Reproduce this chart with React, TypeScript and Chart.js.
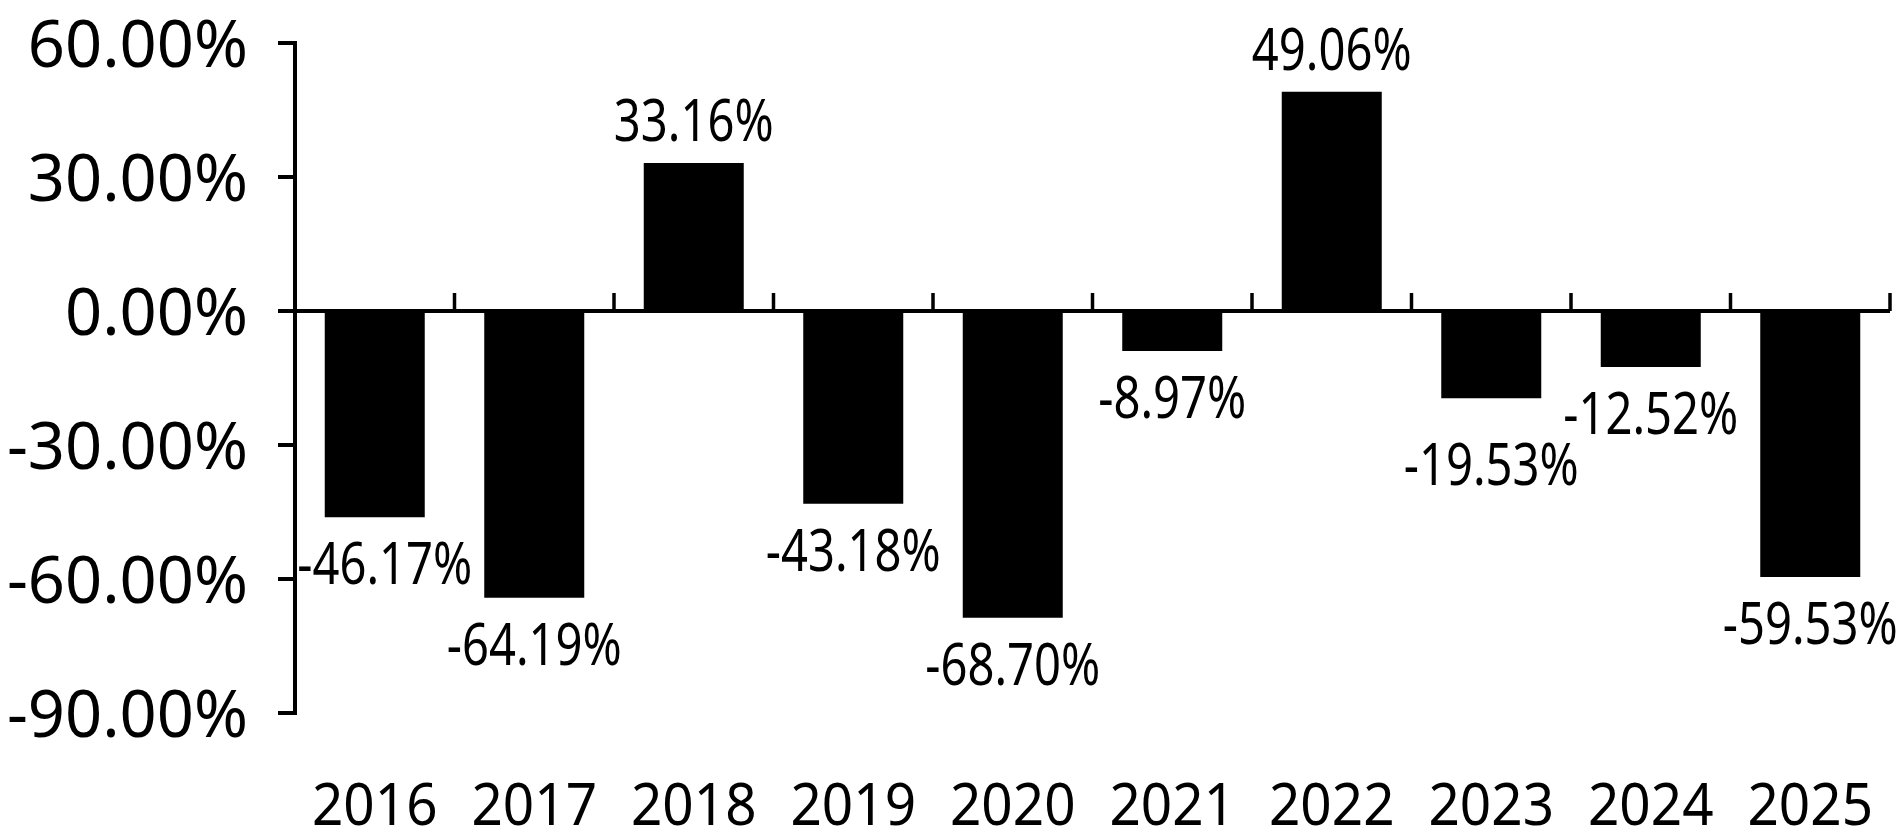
import React, { useEffect, useRef } from "react";
import { Chart, registerables } from "chart.js";

Chart.register(...registerables);

// ---- data ----
const years = ["2016", "2017", "2018", "2019", "2020", "2021", "2022", "2023", "2024", "2025"];
const returns = [-46.17, -64.19, 33.16, -43.18, -68.7, -8.97, 49.06, -19.53, -12.52, -59.53];
const yTicks = [60, 30, 0, -30, -60, -90];

// ---- styling ----
const FAMILY = "'Noto Sans', 'Open Sans', sans-serif";
const LABEL_SIZE = 59;
const DATA_SQUEEZE = 0.8;
const CAT_SQUEEZE = 0.93;

function fmt(v: number) {
  return v.toFixed(2) + "%";
}

function drawSqueezed(
  ctx: CanvasRenderingContext2D,
  text: string,
  cx: number,
  baseline: number,
  squeeze: number
) {
  ctx.save();
  ctx.translate(cx, baseline);
  ctx.scale(squeeze, 1);
  ctx.textAlign = "center";
  ctx.textBaseline = "alphabetic";
  ctx.fillText(text, 0, 0);
  ctx.restore();
}

const overlay = {
  id: "overlay",
  afterDatasetsDraw(chart: any) {
    const { ctx, chartArea, scales } = chart;
    const x = scales.x;
    const y = scales.y;
    const y0 = y.getPixelForValue(0);
    const half = (x.getPixelForValue(1) - x.getPixelForValue(0)) / 2;

    ctx.save();
    ctx.strokeStyle = "#000";
    ctx.fillStyle = "#000";

    // zero line
    ctx.lineWidth = 4;
    ctx.beginPath();
    ctx.moveTo(chartArea.left, y0);
    ctx.lineTo(chartArea.right, y0);
    ctx.stroke();

    // upward tick marks at category boundaries
    ctx.lineWidth = 3.5;
    for (let i = 1; i <= years.length; i++) {
      const bx = x.getPixelForValue(i - 1) + half;
      ctx.beginPath();
      ctx.moveTo(bx, y0);
      ctx.lineTo(bx, y0 - 18);
      ctx.stroke();
    }

    // data labels
    ctx.font = `${LABEL_SIZE}px ${FAMILY}`;
    const meta = chart.getDatasetMeta(0);
    const capH = LABEL_SIZE * 0.714;
    meta.data.forEach((el: any, i: number) => {
      const v = returns[i];
      let dx = 0;
      let dy = 0;
      if (i === 0) dx = 10;
      if (i === 7) dy = 20;
      const base = v < 0 ? el.y + 25 + capH : el.y - 22;
      drawSqueezed(ctx, fmt(v), el.x + dx, base + dy, DATA_SQUEEZE);
    });

    // category labels
    years.forEach((yr, i) => {
      drawSqueezed(ctx, yr, x.getPixelForValue(i), chartArea.bottom + 112, CAT_SQUEEZE);
    });

    ctx.restore();
  },
};

export default function App() {
  const ref = useRef<HTMLCanvasElement>(null);

  useEffect(() => {
    const chart = new Chart(ref.current!, {
      type: "bar",
      data: {
        labels: years,
        datasets: [
          {
            data: returns,
            backgroundColor: "#000",
            borderWidth: 0,
            barPercentage: 0.627,
            categoryPercentage: 1,
          },
        ],
      },
      options: {
        animation: false,
        responsive: false,
        devicePixelRatio: 1,
        layout: { padding: { left: 0, right: 10, top: 43, bottom: 120 } },
        plugins: { legend: { display: false }, tooltip: { enabled: false } },
        scales: {
          x: { type: "category", display: false, offset: true },
          y: {
            min: -90,
            max: 60,
            afterBuildTicks: (s: any) => {
              s.ticks = yTicks.map((v) => ({ value: v }));
            },
            afterFit: (s: any) => {
              s.width = 295;
              s.paddingTop = 0;
              s.paddingBottom = 0;
            },
            ticks: {
              callback: (v: any) => fmt(Number(v)),
              font: { family: FAMILY, size: 65 },
              color: "#000",
              padding: 30,
              labelOffset: 5,
            },
            grid: {
              drawOnChartArea: false,
              drawTicks: true,
              tickLength: 17,
              lineWidth: 4,
              color: "#000",
            },
            border: { display: true, width: 4, color: "#000" },
          },
        },
      },
      plugins: [overlay],
    } as any);
    return () => chart.destroy();
  }, []);

  return (
    <div style={{ position: "fixed", left: 0, top: 0, width: 1900, height: 833, background: "#fff" }}>
      <canvas ref={ref} width={1900} height={833} style={{ display: "block" }} />
    </div>
  );
}
